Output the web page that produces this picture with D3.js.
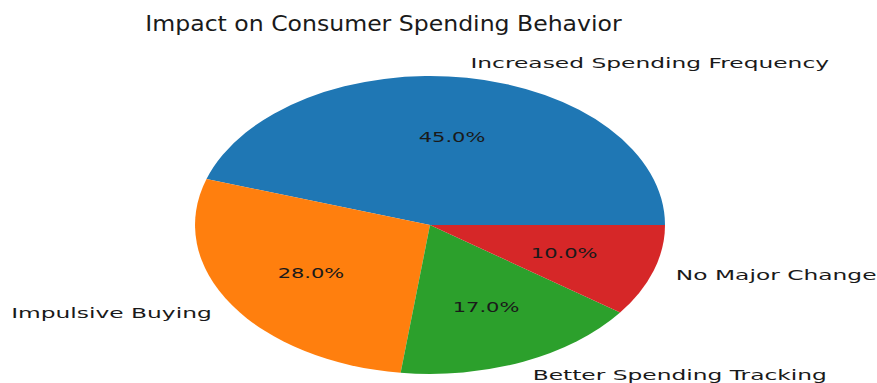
<!DOCTYPE html>
<html>
<head>
<meta charset="utf-8">
<title>Impact on Consumer Spending Behavior</title>
<script src="https://cdnjs.cloudflare.com/ajax/libs/d3/7.8.5/d3.min.js"></script>
<style>
  body { margin: 0; background: #fff; }
  svg { display: block; }
  text { font-family: "DejaVu Sans", sans-serif; fill: #1a1a1a; }
</style>
</head>
<body>
<svg id="chart" width="877" height="383"></svg>
<script>
const categories = ['Increased Spending Frequency', 'Impulsive Buying', 'Better Spending Tracking', 'No Major Change'];
const shares = [45, 28, 17, 10];
const colors = ['#1f77b4', '#ff7f0e', '#2ca02c', '#d62728'];

const width = 877, height = 383;
const cx = 430, cy = 225, rx = 235, ry = 149;
// the picture is stretched sideways, text too
const lblStretch = 1.61, pctStretch = 1.5, titleStretch = 1.15;

const svg = d3.select('#chart');

const data = categories.map((c, i) => ({ name: c, value: shares[i], color: colors[i] }));

// matplotlib style: start at 3 o'clock, go counter-clockwise
const pie = d3.pie().sort(null).value(d => d.value)
  .startAngle(Math.PI / 2).endAngle(Math.PI / 2 - 2 * Math.PI);
const arcs = pie(data);

const arc = d3.arc().innerRadius(0).outerRadius(1);

const g = svg.append('g').attr('transform', `translate(${cx},${cy}) scale(${rx},${ry})`);
g.selectAll('path')
  .data(arcs)
  .enter()
  .append('path')
  .attr('d', arc)
  .style('fill', d => d.data.color);

const mid = d => (d.startAngle + d.endAngle) / 2;
const px = (d, k) => cx + k * rx * Math.sin(mid(d));
const py = (d, k) => cy - k * ry * Math.cos(mid(d));

const fmt = d3.format('.1f');

// percentages
svg.selectAll('text.pct')
  .data(arcs)
  .enter()
  .append('text')
  .attr('class', 'pct')
  .attr('transform', d => `translate(${px(d, 0.6)},${py(d, 0.6)}) scale(${pctStretch},1)`)
  .attr('text-anchor', 'middle')
  .attr('dominant-baseline', 'central')
  .style('font-size', '14px')
  .text(d => fmt(d.data.value / d3.sum(shares) * 100) + '%');

// category labels
svg.selectAll('text.lbl')
  .data(arcs)
  .enter()
  .append('text')
  .attr('class', 'lbl')
  .attr('transform', d => `translate(${px(d, 1.1)},${py(d, 1.1)}) scale(${lblStretch},1)`)
  .attr('text-anchor', d => Math.sin(mid(d)) >= 0 ? 'start' : 'end')
  .attr('dominant-baseline', 'central')
  .style('font-size', '14.5px')
  .text(d => d.data.name);

svg.append('text')
  .attr('transform', `translate(383.5,31) scale(${titleStretch},1)`)
  .attr('text-anchor', 'middle')
  .style('font-size', '20.5px')
  .text('Impact on Consumer Spending Behavior');
</script>
</body>
</html>
